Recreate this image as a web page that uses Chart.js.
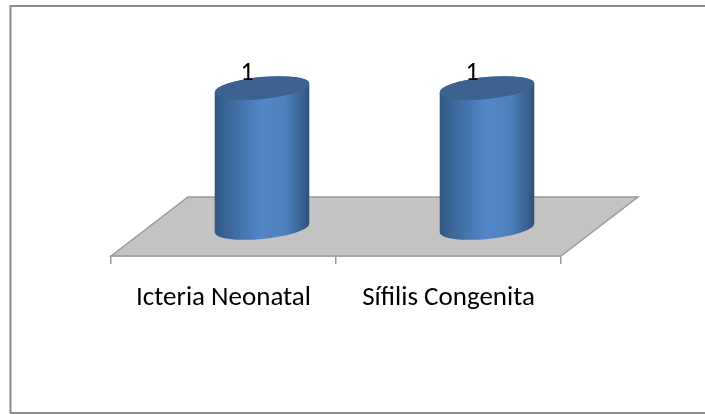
<!DOCTYPE html>
<html>
<head>
<meta charset="utf-8">
<script src="https://cdn.jsdelivr.net/npm/chart.js@4"></script>
<style>
    html, body { margin: 0; padding: 0; background: #fff; }
    #wrap { position: relative; width: 705px; height: 414px; }
</style>
</head>
<body>
<div id="wrap"><canvas id="myChart" width="705" height="414"></canvas></div>
<script>
const categories = ['Icteria Neonatal', 'Sífilis Congenita'];
const casos = [1, 1];

// 3D look of the original: how far the floor and the bars sit behind the axis
const depthX = 77;
const depthY = 59;
const barShift = 38.5;

const cylinders = {
    id: 'cylinders',
    beforeDatasetsDraw(chart) {
        const ctx = chart.ctx;
        const area = chart.chartArea;

        // frame
        ctx.save();
        ctx.strokeStyle = '#8c8c8c';
        ctx.lineWidth = 2;
        ctx.beginPath();
        ctx.moveTo(10.5, 414);
        ctx.lineTo(10.5, 6);
        ctx.lineTo(705, 6);
        ctx.stroke();
        ctx.beginPath();
        ctx.moveTo(10, 413);
        ctx.lineTo(705, 413);
        ctx.stroke();
        ctx.restore();

        // floor
        ctx.save();
        ctx.fillStyle = '#c3c3c3';
        ctx.strokeStyle = '#9a9a9a';
        ctx.lineWidth = 1.5;
        ctx.beginPath();
        ctx.moveTo(area.left, area.bottom);
        ctx.lineTo(area.left + depthX, area.bottom - depthY);
        ctx.lineTo(area.right + depthX, area.bottom - depthY);
        ctx.lineTo(area.right, area.bottom);
        ctx.closePath();
        ctx.fill();
        ctx.stroke();
        ctx.restore();
    },
    afterDatasetsDraw(chart) {
        const ctx = chart.ctx;
        const tilt = -5.5 * Math.PI / 180;
        chart.getDatasetMeta(0).data.forEach(function (bar, i) {
            const cx = bar.x + barShift;
            const rx = bar.width / 2;
            const ry = 11;

            const grad = ctx.createLinearGradient(cx - rx, 0, cx + rx, 0);
            grad.addColorStop(0, '#2f5580');
            grad.addColorStop(0.12, '#3a6596');
            grad.addColorStop(0.5, '#5486c8');
            grad.addColorStop(0.75, '#4e7fbc');
            grad.addColorStop(0.93, '#39608f');
            grad.addColorStop(1, '#2f4f78');

            // body
            ctx.save();
            ctx.fillStyle = grad;
            ctx.beginPath();
            ctx.ellipse(cx, bar.base, rx, ry, tilt, Math.PI, 0, true);
            ctx.ellipse(cx, bar.y, rx, ry, tilt, 0, Math.PI, true);
            ctx.closePath();
            ctx.fill();

            // top
            ctx.fillStyle = '#3c6390';
            ctx.beginPath();
            ctx.ellipse(cx, bar.y, rx, ry, tilt, 0, Math.PI * 2);
            ctx.fill();

            // value label
            ctx.fillStyle = '#000';
            ctx.font = '26px Carlito, "Open Sans", sans-serif';
            ctx.textAlign = 'center';
            ctx.textBaseline = 'alphabetic';
            ctx.fillText(casos[i], cx - 15, bar.y - 8);
            ctx.restore();
        });
    }
};

document.addEventListener('DOMContentLoaded', function () {
    const ctx1 = document.getElementById('myChart').getContext('2d');

    new Chart(ctx1, {
        type: 'bar',
        data: {
            labels: categories,
            datasets: [{
                label: 'Casos',
                data: casos,
                backgroundColor: 'rgba(0, 0, 0, 0)',
                barThickness: 95
            }]
        },
        plugins: [cylinders],
        options: {
            responsive: false,
            animation: false,
            layout: { padding: { left: 111, right: 144, top: 60, bottom: 0 } },
            plugins: {
                legend: { display: false },
                tooltip: { enabled: false }
            },
            scales: {
                y: { display: false, min: -0.2, max: 1.2 },
                x: {
                    afterFit(scale) { scale.height = 158; },
                    grid: {
                        drawOnChartArea: false,
                        color: '#9a9a9a',
                        lineWidth: 1.5,
                        tickLength: 8
                    },
                    border: { color: '#9a9a9a', width: 1.5 },
                    ticks: {
                        color: '#000',
                        padding: 18,
                        maxRotation: 0,
                        font: { family: 'Carlito, "Open Sans", sans-serif', size: 27 }
                    }
                }
            }
        }
    });
});
</script>
</body>
</html>
